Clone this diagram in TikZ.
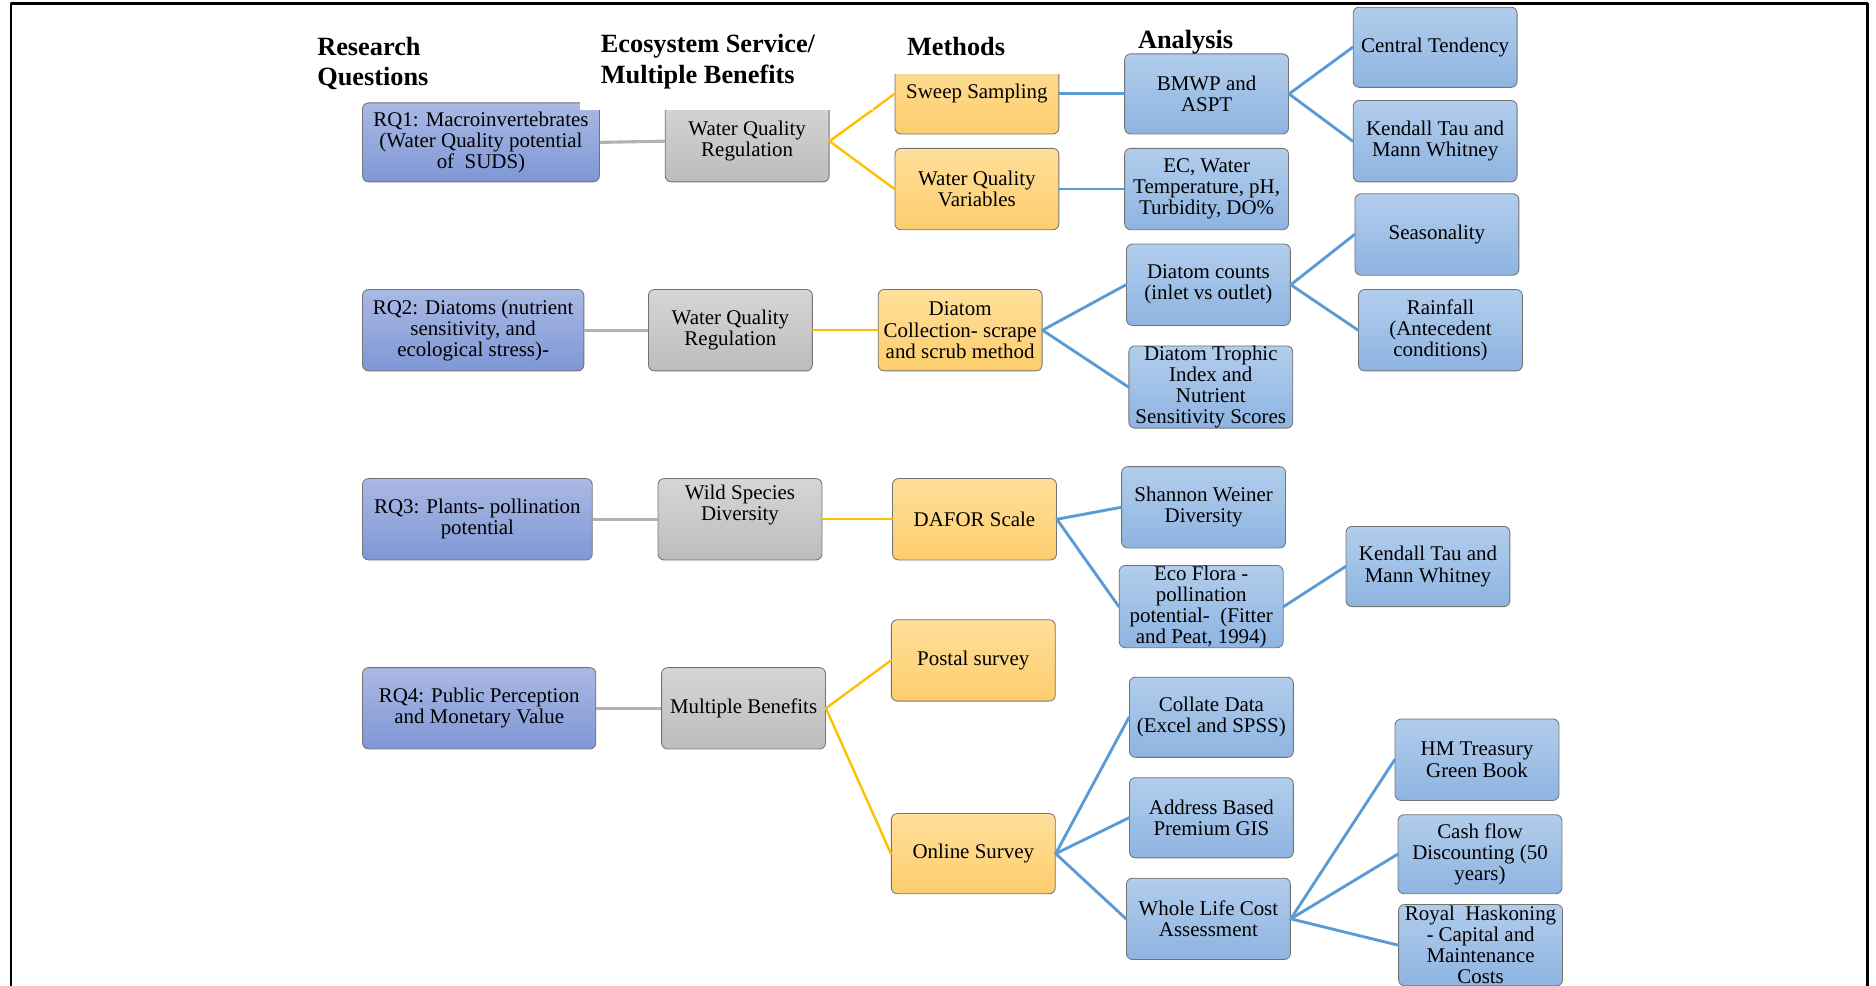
\documentclass[tikz,border=0pt]{standalone}
\usepackage{fontspec}
\setmainfont{Liberation Serif}
\usepackage{tikz}
\usetikzlibrary{calc}
\definecolor{rqtop}{RGB}{170,185,228}
\definecolor{rqbot}{RGB}{126,151,213}
\definecolor{estop}{RGB}{214,214,214}
\definecolor{esbot}{RGB}{188,188,188}
\definecolor{mtop}{RGB}{255,223,155}
\definecolor{mbot}{RGB}{253,205,108}
\definecolor{antop}{RGB}{178,205,236}
\definecolor{anbot}{RGB}{142,180,225}
\definecolor{greyln}{RGB}{178,178,178}
\definecolor{orangeln}{RGB}{255,192,0}
\definecolor{blueln}{RGB}{91,155,213}

\begin{document}
\begin{tikzpicture}[x=1pt,y=-1pt,line cap=round,line join=round,
    cellbox/.style={draw=black!55,line width=0.7pt,rounded corners=5pt,align=center,
        minimum width=137pt,minimum height=68pt,inner sep=0pt,font=\fontsize{17.5}{17.6}\selectfont},
    rqbox/.style={cellbox,top color=rqtop,bottom color=rqbot},
    esbox/.style={cellbox,top color=estop,bottom color=esbot},
    methbox/.style={cellbox,top color=mtop,bottom color=mbot},
    anbox/.style={cellbox,top color=antop,bottom color=anbot},
    greyline/.style={draw=greyln,line width=2.6pt,line cap=butt},
    orangeline/.style={draw=orangeln,line width=2pt},
    blueline/.style={draw=blueln,line width=2.4pt},
    header/.style={anchor=west,align=left,inner sep=0pt,font=\fontsize{22}{25.5}\selectfont\bfseries}]
    \useasboundingbox (0,0) rectangle (1568,824);
    \draw [line width=2pt] (9,830) -- (9,3) -- (1561,3) -- (1561,830);

    \node [rqbox,minimum width=198pt,minimum height=66pt] (rq1) at (402,119) {RQ1: Macroinvertebrates\\(Water Quality potential\\of~ SUDS)};
    \node [rqbox,minimum width=185pt] (rq2) at (395.5,276) {RQ2: Diatoms (nutrient\\sensitivity, and\\ecological stress)-};
    \node [rqbox,minimum width=192pt] (rq3) at (399,434) {RQ3: Plants- pollination\\potential};
    \node [rqbox,minimum width=195pt] (rq4) at (400.5,592) {RQ4: Public Perception\\and Monetary Value};

    \node [esbox] (es1) at (624.5,118) {Water Quality\\Regulation};
    \node [esbox] (es2) at (610.5,276) {Water Quality\\Regulation};
    \node [esbox] (es3) at (618.5,434) {Wild Species\\Diversity\rule[-28pt]{0pt}{0pt}};
    \node [esbox] (es4) at (621.5,592) {Multiple Benefits};

    \node [methbox,minimum height=67pt] (sweep) at (816.5,78.5) {Sweep Sampling};
    \node [methbox] (wqvar) at (816.5,158) {Water Quality\\Variables};
    \node [methbox] (diacoll) at (802.5,276) {Diatom\\Collection- scrape\\and scrub method};
    \node [methbox] (dafor) at (814.5,434) {DAFOR Scale};
    \node [methbox] (postal) at (813.5,552) {Postal survey};
    \node [methbox,minimum height=67pt] (online) at (813.5,713.5) {Online Survey};

    \node [anbox,minimum height=67pt] (bmwp) at (1008.5,78.5) {BMWP and\\ASPT};
    \node [anbox] (ecwt) at (1008.5,158) {EC, Water\\Temperature, pH,\\Turbidity, DO\%};
    \node [anbox] (diacount) at (1010,238) {Diatom counts\\(inlet vs outlet)};
    \node [anbox,minimum height=67pt] (trophic) at (1012,323.5) {Diatom Trophic\\Index and\\Nutrient\\Sensitivity Scores};
    \node [anbox] (shannon) at (1006,424) {Shannon Weiner\\Diversity};
    \node [anbox] (ecoflora) at (1004,507) {Eco Flora -\\pollination\\potential-~ (Fitter\\and Peat, 1994)};
    \node [anbox,minimum height=67pt] (collate) at (1012.5,599.5) {Collate Data\\(Excel and SPSS)};
    \node [anbox,minimum height=67pt] (address) at (1012.5,683.5) {Address Based\\Premium GIS};
    \node [anbox] (wholelife) at (1010,768) {Whole Life Cost\\Assessment};

    \node [anbox,minimum height=67pt] (central) at (1199.5,39.5) {Central Tendency};
    \node [anbox] (kendalla) at (1199.5,118) {Kendall Tau and\\Mann Whitney};
    \node [anbox] (season) at (1201,196) {Seasonality};
    \node [anbox] (rain) at (1204,276) {Rainfall\\(Antecedent\\conditions)};
    \node [anbox,minimum height=67pt] (kendallb) at (1193.5,473.5) {Kendall Tau and\\Mann Whitney};
    \node [anbox] (treasury) at (1234.5,635) {HM Treasury\\Green Book};
    \node [anbox,minimum height=66pt] (cashflow) at (1237,714) {Cash flow\\Discounting (50\\years)};
    \node [anbox] (royal) at (1237.5,790) {Royal~ Haskoning\\- Capital and\\Maintenance\\Costs};

    \draw [greyline] (rq1.east) -- (es1.west);
    \draw [greyline] (rq2.east) -- (es2.west);
    \draw [greyline] (rq3.east) -- (es3.west);
    \draw [greyline] (rq4.east) -- (es4.west);

    \draw [orangeline] (sweep.west) -- (es1.east) -- (wqvar.west);
    \draw [orangeline] (es2.east) -- (diacoll.west);
    \draw [orangeline] (es3.east) -- (dafor.west);
    \draw [orangeline] (postal.west) -- (es4.east) -- (online.west);

    \draw [blueline] (sweep.east) -- (bmwp.west);
    \draw [blueline] (wqvar.east) -- (ecwt.west);
    \draw [blueline] (central.west) -- (bmwp.east) -- (kendalla.west);
    \draw [blueline] (diacount.west) -- (diacoll.east) -- (trophic.west);
    \draw [blueline] (season.west) -- (diacount.east) -- (rain.west);
    \draw [blueline] (shannon.west) -- (dafor.east) -- (ecoflora.west);
    \draw [blueline] (ecoflora.east) -- (kendallb.west);
    \draw [blueline] (online.east) -- (collate.west);
    \draw [blueline] (online.east) -- (address.west);
    \draw [blueline] (online.east) -- (wholelife.west);
    \draw [blueline] (wholelife.east) -- (treasury.west);
    \draw [blueline] (wholelife.east) -- (cashflow.west);
    \draw [blueline] (wholelife.east) -- (royal.west);

    \fill [white] (485,20) rectangle (730,92);
    \fill [white] (744,20) rectangle (890,62);
    \node [header] (hdrrq) at (265,53) {Research\\Questions};
    \node [header] (hdres) at (502,51.5) {Ecosystem Service/\\Multiple Benefits};
    \node [header] (hdrmeth) at (758,39) {Methods};
    \node [header] (hdran) at (951,35) {Analysis};
\end{tikzpicture}
\end{document}
